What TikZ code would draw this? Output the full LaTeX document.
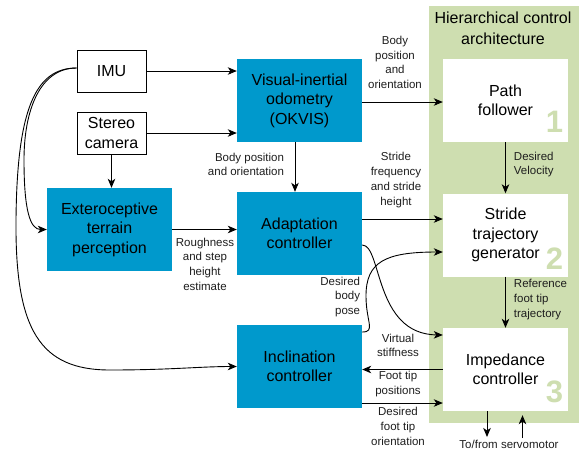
\documentclass[tikz,border=0pt]{standalone}
\usepackage{fontspec}
\setmainfont{Liberation Sans}
\usetikzlibrary{arrows.meta}

\begin{document}
\begin{tikzpicture}[x=1pt,y=1pt,yscale=-1,xscale=1,
  blk/.style={fill={rgb, 255:red, 0; green, 153; blue, 204 },minimum width=125pt,minimum height=83pt,inner sep=0.75pt,align=center,font=\fontsize{16}{19.5}\selectfont},
  ctl/.style={fill=white,minimum width=125pt,minimum height=83pt,inner sep=0.75pt,align=center,font=\fontsize{16}{19.5}\selectfont},
  sens/.style={draw,line width=0.9pt,fill=white,minimum width=69pt,minimum height=42pt,inner sep=0.75pt,align=center,font=\fontsize{16}{19.5}\selectfont},
  lbl/.style={inner sep=0.75pt,align=center,text={rgb, 255:red, 30; green, 30; blue, 30 },font=\fontsize{11.5}{14.7}\selectfont},
  num/.style={inner sep=0pt,text={rgb, 255:red, 206; green, 222; blue, 176 },font=\fontsize{31}{31}\selectfont\bfseries},
  arr/.style={line width=0.9pt,-{Stealth[length=9pt,width=7.5pt,inset=2.5pt]}}
]
\useasboundingbox (0,0) rectangle (579,451);

%Shape: Rectangle (hierarchical control)
\fill [fill={rgb, 255:red, 206; green, 222; blue, 176 }] (429,6) rectangle (579,423);
% Text Node
\node [lbl,text=black,font=\fontsize{16}{20.5}\selectfont] (title) at (503,28.5) {Hierarchical control\\architecture};

%Shape: Rectangle
\node [sens] (imu) at (111.5,71) {IMU};
\node [sens] (cam) at (111.5,133) {Stereo\\camera};
\node [blk] (vio) at (299.5,100.5) {Visual-inertial\\odometry\\(OKVIS)};
\node [blk] (ext) at (109.5,229.5) {Exteroceptive\\terrain\\perception};
\node [blk] (adapt) at (299.5,233.5) {Adaptation\\controller};
\node [blk] (incl) at (299.5,366.5) {Inclination\\controller};
\node [ctl] (path) at (505.5,100.5) {Path\\follower};
\node [ctl] (stride) at (505.5,235) {Stride\\trajectory\\generator};
\node [ctl] (imp) at (505.5,369.5) {Impedance\\controller};

% Text Node
\node [num,anchor=base east] (n1) at ([xshift=-5pt,yshift=-10pt]path.south east) {1};
\node [num,anchor=base east] (n2) at ([xshift=-5pt,yshift=-7pt]stride.south east) {2};
\node [num,anchor=base east] (n3) at ([xshift=-5pt,yshift=-9pt]imp.south east) {3};

%Straight Lines
\draw [arr] (imu.east) -- (imu.east -| vio.west);
\draw [arr] (cam.east) -- (cam.east -| vio.west);
\draw [arr] (cam.south) -- (cam.south |- ext.north);
\draw [arr] (ext.east) -- (ext.east -| adapt.west);
\draw [arr] ([xshift=-4.5pt]vio.south) -- ([xshift=-4.5pt]adapt.north);
\draw [arr] ([yshift=1.5pt]vio.east) -- ([yshift=1.5pt]vio.east -| path.west);
\draw [arr] (path.south) -- (stride.north);
\draw [arr] ([yshift=-14.5pt]adapt.east) -- ([yshift=-14.5pt]adapt.east -| stride.west);
\draw [arr] (stride.south) -- (imp.north);
\draw [arr] (imp.west) -- (imp.west -| incl.east);
\draw [arr] ([yshift=36.5pt]incl.east) -- ([yshift=36.5pt]incl.east -| imp.west);

%Curve Lines
\draw [arr] ([yshift=11.5pt]adapt.east) .. controls (382,245) and (374,334) .. ([yshift=-34.5pt]imp.west);
\draw [arr] ([yshift=-34.5pt]incl.east) .. controls (376,332) and (366,322) .. (366,296) .. controls (366,262) and (385,252) .. ([yshift=17pt]stride.west);
\draw [arr] ([yshift=-3pt]imu.west) .. controls (40,68) and (24,110) .. (24,160) .. controls (24,210) and (30,229.5) .. (ext.west);
\draw [arr] ([yshift=-3pt]imu.west) .. controls (35,68) and (17,110) .. (16,220) .. controls (15,330) and (40,370) .. (110,370) .. controls (170,370) and (200,366.5) .. (incl.west);

%Straight Lines (servomotor)
\coordinate (srvdn) at (487,437);
\coordinate (srvup) at (522.5,438);
\draw [arr] ([xshift=-18.5pt]imp.south) -- (srvdn);
\draw [arr] (srvup) -- ([xshift=17pt,yshift=4pt]imp.south);

% Text Node
\node [lbl] (lbodyA) at (395,62.5) {Body\\position\\and\\orientation};
% Text Node
\node [lbl] (lstride) at (396,180) {Stride\\frequency\\and stride\\height};
% Text Node
\node [lbl,anchor=west,align=left] (lvel) at (513,164.5) {Desired\\Velocity};
% Text Node
\node [lbl,anchor=east,align=right] (lbodyB) at (285,164.5) {Body position\\and orientation};
% Text Node
\node [lbl] (lrough) at (205,264) {Roughness\\and step\\height\\estimate};
% Text Node
\node [lbl,anchor=east,align=right] (lpose) at (361,297) {Desired\\body\\pose};
% Text Node
\node [lbl,anchor=west,align=left] (lref) at (513,299.5) {Reference\\foot tip\\trajectory};
% Text Node
\node [lbl] (lstiff) at (398,345.5) {Virtual\\stiffness};
% Text Node
\node [lbl] (lpos) at (398,384) {Foot tip\\positions};
% Text Node
\node [lbl] (lorient) at (398,426.5) {Desired\\foot tip\\orientation};
% Text Node
\node [lbl] (lservo) at (509,444) {To/from servomotor};

\end{tikzpicture}
\end{document}
